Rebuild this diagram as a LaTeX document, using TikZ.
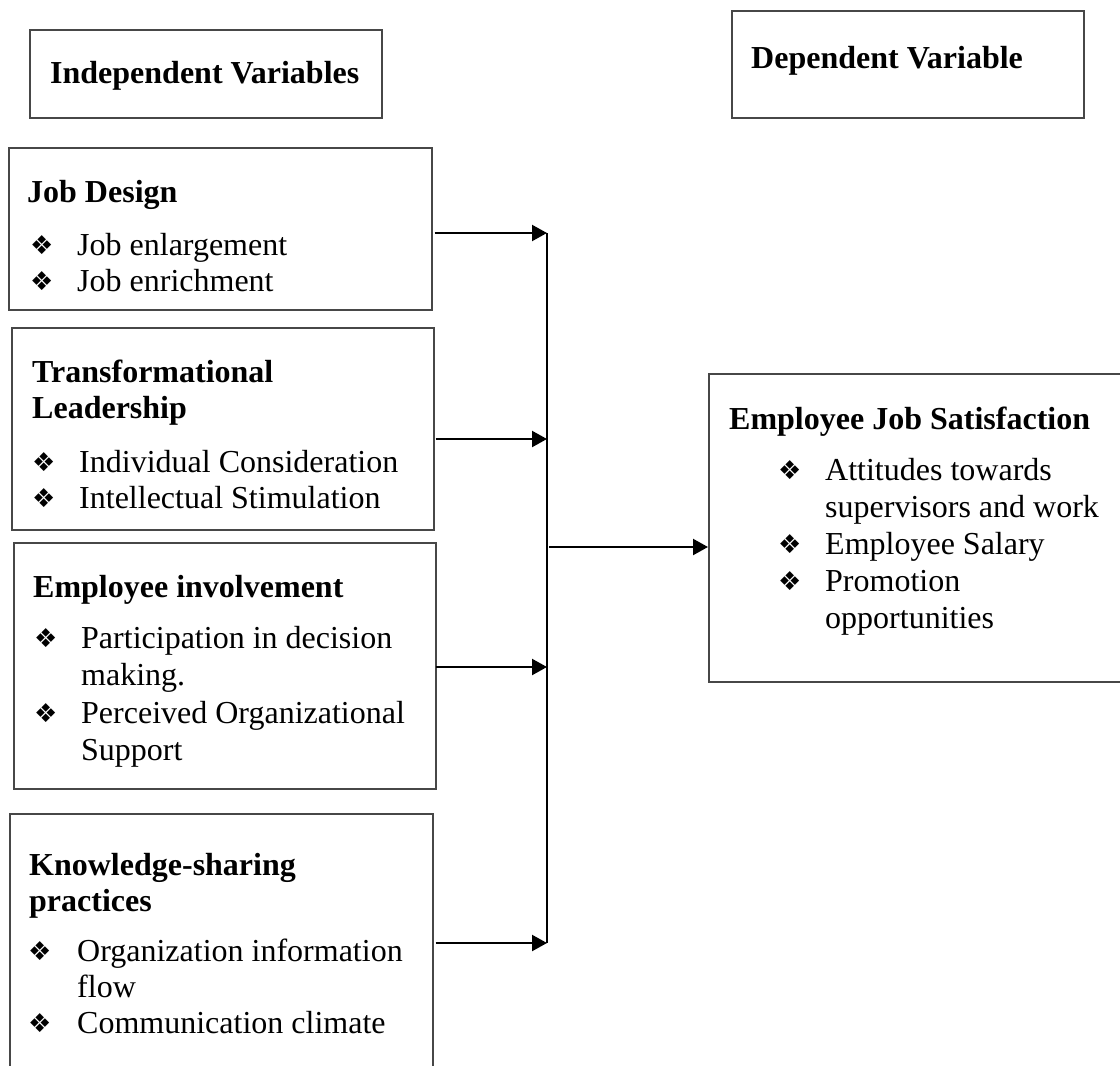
\documentclass[tikz,border=0pt]{standalone}
\usepackage{fontspec}
\setmainfont{Liberation Serif}
\newfontfamily\dingfont{DejaVu Sans}
\usetikzlibrary{arrows.meta}

\newcommand\dmd{{\dingfont\fontsize{26}{26}\selectfont ❖}}

\tikzset{
  frame/.style={draw=black!72, line width=1.5pt, inner sep=0pt, anchor=north west},
  txt/.style={inner sep=0pt, anchor=base west, font=\fontsize{32}{36.8}\selectfont},
  head/.style={txt, font=\fontsize{32}{36.8}\selectfont\bfseries},
  dotmark/.style={inner sep=0pt, anchor=base west},
  link/.style={line width=2.2pt, -{Triangle[length=15pt,width=16pt]}},
  bus/.style={line width=2.2pt}
}

\begin{document}
\begin{tikzpicture}[x=1pt,y=-1pt]
\clip (0,0) rectangle (1120,1066);

% column headings
\node[frame, minimum width=352pt, minimum height=88pt] (ivbox) at (29,29) {};
\node[head] (ivt) at (50,83) {Independent Variables};
\node[frame, minimum width=352pt, minimum height=107pt] (dvbox) at (731,10) {};
\node[head] (dvt) at (751,68) {Dependent Variable};

% Job Design
\node[frame, minimum width=423pt, minimum height=162pt] (jd) at (8,147) {};
\node[head] (jdh) at (27,202) {Job Design};
\node[dotmark] (jdm1) at (30,254) {\dmd};
\node[txt]  (jd1)  at (77,255) {Job enlargement};
\node[dotmark] (jdm2) at (30,290) {\dmd};
\node[txt]  (jd2)  at (77,291) {Job enrichment};

% Transformational Leadership
\node[frame, minimum width=422pt, minimum height=202pt] (tl) at (11,327) {};
\node[head] (tlh1) at (32,382) {Transformational};
\node[head] (tlh2) at (32,418) {Leadership};
\node[dotmark] (tlm1) at (32,471) {\dmd};
\node[txt]  (tl1)  at (79,472) {Individual Consideration};
\node[dotmark] (tlm2) at (32,507) {\dmd};
\node[txt]  (tl2)  at (79,508) {Intellectual Stimulation};

% Employee involvement
\node[frame, minimum width=422pt, minimum height=246pt] (ei) at (13,542) {};
\node[head] (eih) at (33,597) {Employee involvement};
\node[dotmark] (eim1) at (34,647) {\dmd};
\node[txt]  (ei1)  at (81,648) {Participation in decision};
\node[txt]  (ei1b) at (81,685) {making.};
\node[dotmark] (eim2) at (34,722) {\dmd};
\node[txt]  (ei2)  at (81,723) {Perceived Organizational};
\node[txt]  (ei2b) at (81,760) {Support};

% Knowledge-sharing practices
\node[frame, minimum width=423pt, minimum height=270pt] (ks) at (9,813) {};
\node[head] (ksh1) at (29,875) {Knowledge-sharing};
\node[head] (ksh2) at (29,911) {practices};
\node[dotmark] (ksm1) at (28,960) {\dmd};
\node[txt]  (ks1)  at (77,961) {Organization information};
\node[txt]  (ks1b) at (77,997) {flow};
\node[dotmark] (ksm2) at (28,1032) {\dmd};
\node[txt]  (ks2)  at (77,1033) {Communication climate};

% Employee Job Satisfaction
\node[frame, minimum width=416pt, minimum height=308pt] (js) at (708,373) {};
\node[head] (jsh) at (729,429) {Employee Job Satisfaction};
\node[dotmark] (jsm1) at (778,479) {\dmd};
\node[txt]  (js1)  at (825,480) {Attitudes towards};
\node[txt]  (js1b) at (825,517) {supervisors and work};
\node[dotmark] (jsm2) at (778,553) {\dmd};
\node[txt]  (js2)  at (825,554) {Employee Salary};
\node[dotmark] (jsm3) at (778,590) {\dmd};
\node[txt]  (js3)  at (825,591) {Promotion};
\node[txt]  (js3b) at (825,628) {opportunities};

% collecting line
\coordinate (b1) at (547,233);
\coordinate (b2) at (547,439);
\coordinate (b3) at (547,667);
\coordinate (b4) at (547,943);
\coordinate (out) at (549,547);
\draw[bus] (b1) -- (b4);

\draw[link] ([xshift=2pt]jd.east |- b1) -- (b1);
\draw[link] ([xshift=1pt]tl.east |- b2) -- (b2);
\draw[link] ([xshift=-1pt]ei.east |- b3) -- (b3);
\draw[link] ([xshift=2pt]ks.east |- b4) -- (b4);
\draw[link] (out) -- (js.west |- out);
\end{tikzpicture}
\end{document}
